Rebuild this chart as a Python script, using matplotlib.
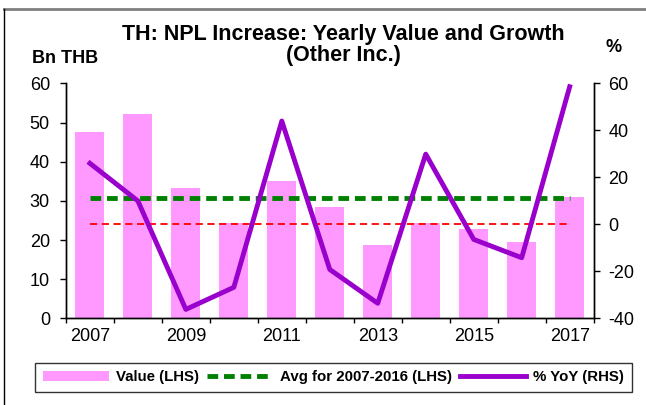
"""
NPL increase chart: yearly value (bars, LHS) and YoY growth (line, RHS).
"""

import numpy as np
import matplotlib.pyplot as plt
from matplotlib.lines import Line2D

plt.rcParams['font.family'] = ['Liberation Sans', 'DejaVu Sans']
plt.rcParams['axes.unicode_minus'] = False

# data
years = ['2007', '2008', '2009', '2010', '2011', '2012',
         '2013', '2014', '2015', '2016', '2017']
values = [47.5, 52.3, 33.2, 24.3, 35.2, 28.4, 18.7, 24.3, 22.8, 19.4, 31.0]
yoy = [26.0, 10.0, -36.2, -26.8, 44.0, -19.2, -33.6, 29.9, -6.4, -14.2, 58.6]
avg_years = years[:10]  # 2007-2016

# colours
PINK = '#FF99FF'
GREEN = '#008000'
PURPLE = '#9900CC'
RED = '#FF0000'

avg_value = np.mean(values[:len(avg_years)])

fig = plt.figure(figsize=(6.46, 4.05), dpi=100)
ax = fig.add_axes([0.102, 0.214, 0.817, 0.580])
x = np.arange(len(years))

bars = ax.bar(x, values, width=0.6, color=PINK, label='Value (LHS)', zorder=1)
avg_line, = ax.plot(x, [avg_value] * len(years), color=GREEN, lw=3.5,
                    ls=(0, (2.2, 1.2)), label='Avg for 2007-2016 (LHS)', zorder=3)
ax.set_xlim(-0.5, len(years) - 0.5)
ax.set_ylim(0, 60)
ax.set_yticks(range(0, 61, 10))

ax2 = ax.twinx()
ax2.plot(x, [0] * len(years), color=RED, lw=1.3, ls=(0, (4, 2.5)), zorder=2)
yoy_line, = ax2.plot(x, yoy, color=PURPLE, lw=3.5, label='% YoY (RHS)', zorder=4)
ax2.set_ylim(-40, 60)
ax2.set_yticks(range(-40, 61, 20))

# year ticks at category edges, labels every other year at centres
ax.set_xticks(np.arange(-0.5, len(years), 1.0))
ax.set_xticklabels([])
ax.set_xticks(x[::2], minor=True)
ax.set_xticklabels(years[::2], minor=True)
ax.tick_params(axis='x', which='major', direction='out', length=3.6, width=1)
ax.tick_params(axis='x', which='minor', length=0, pad=7, labelsize=13)
ax.tick_params(axis='y', direction='out', length=4.5, width=1, pad=7, labelsize=13)
ax2.tick_params(axis='y', direction='out', length=4.5, width=1, pad=6, labelsize=13)

for a in (ax, ax2):
    a.spines['top'].set_visible(False)
    for s in a.spines.values():
        s.set_linewidth(1)

fig.text(0.532, 0.889, 'TH: NPL Increase: Yearly Value and Growth\n(Other Inc.)',
         ha='center', va='center', fontsize=15.5, fontweight='bold', linespacing=1.05)
fig.text(0.05, 0.855, 'Bn THB', ha='left', va='center', fontsize=13, fontweight='bold')
fig.text(0.950, 0.882, '%', ha='center', va='center', fontsize=13, fontweight='bold')

leg = fig.legend([bars, avg_line, yoy_line],
                 ['Value (LHS)', 'Avg for 2007-2016 (LHS)', '% YoY (RHS)'],
                 loc='center', bbox_to_anchor=(0.516, 0.068),
                 ncol=3, frameon=True, fancybox=False, edgecolor='black',
                 prop={'weight': 'bold', 'size': 10.8}, handlelength=4.4,
                 handletextpad=0.5, columnspacing=0.5, borderpad=0.5)
leg.get_frame().set_linewidth(1)

# outer chart frame
fig.add_artist(Line2D([4 / 646, 1], [1 - 9 / 405, 1 - 9 / 405],
                      transform=fig.transFigure, color='#808080', lw=2))
fig.add_artist(Line2D([4 / 646, 4 / 646], [0, 1 - 9 / 405],
                      transform=fig.transFigure, color='black', lw=1))

plt.savefig('out.png')
